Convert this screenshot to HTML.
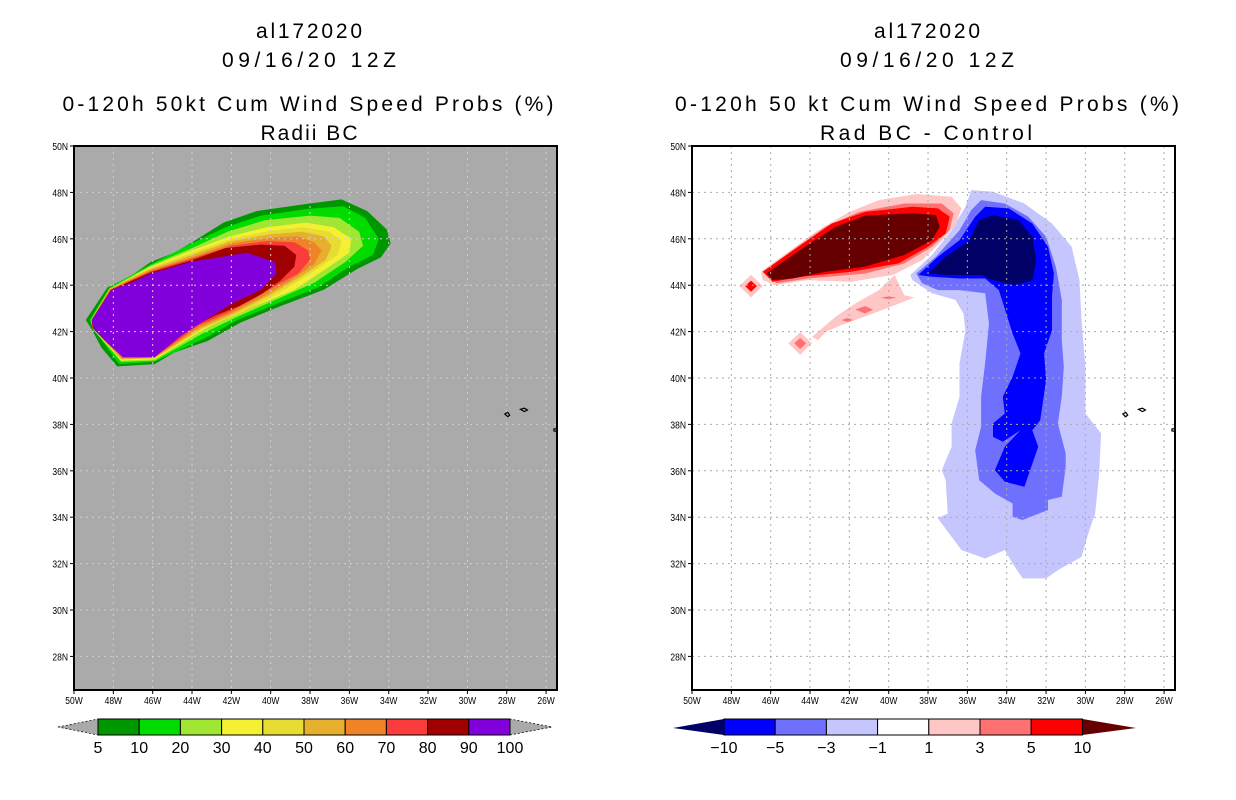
<!DOCTYPE html>
<html><head><meta charset="utf-8"><style>
html,body{margin:0;padding:0;background:#fff;}
svg{display:block;font-family:"Liberation Sans",sans-serif;}
.t{font-size:21px;text-anchor:middle;fill:#000;}
.tk{font-size:10px;fill:#000;}
.cb{font-size:16px;text-anchor:middle;fill:#000;}
</style></head><body>
<svg id="s" width="1236" height="800" viewBox="0 0 1236 800" xmlns="http://www.w3.org/2000/svg">
<defs>
<clipPath id="cl"><rect x="74" y="146" width="483" height="544"/></clipPath>
<clipPath id="cr"><rect x="692" y="146" width="483" height="544"/></clipPath>
</defs>
<g>
<text class="t" x="309" y="38" textLength="106" lengthAdjust="spacing">al172020</text>
<text class="t" x="309" y="67" textLength="174" lengthAdjust="spacing">09/16/20 12Z</text>
<text class="t" x="308" y="111" textLength="491" lengthAdjust="spacing">0-120h 50kt Cum Wind Speed Probs (%)</text>
<text class="t" x="309" y="140" textLength="97" lengthAdjust="spacing">Radii BC</text>
</g>
<g>
<text class="t" x="927" y="38" textLength="106" lengthAdjust="spacing">al172020</text>
<text class="t" x="927" y="67" textLength="174" lengthAdjust="spacing">09/16/20 12Z</text>
<text class="t" x="927" y="111" textLength="504" lengthAdjust="spacing">0-120h 50 kt Cum Wind Speed Probs (%)</text>
<text class="t" x="926" y="140" textLength="212" lengthAdjust="spacing">Rad BC - Control</text>
</g>
<g id="left"></g>
<g id="right"></g>
<g id="cbl"></g>
<g id="cbr"></g>
</svg>
<script>
const NS="http://www.w3.org/2000/svg";
const lonTicks=[50,48,46,44,42,40,38,36,34,32,30,28,26];
const latTicks=[50,48,46,44,42,40,38,36,34,32,30,28];
// Left panel contours (lonW, lat)
const probLevels=[5,10,20,30,40,50,60,70,80,90];
const probColors=["#009600","#00dc00","#a0e632","#f5f032","#e6dc32","#e6af2d","#f08228","#fa3c3c","#a00000","#8200dc"];
const p5=[[49.4,42.5],[48.3,43.9],[47.1,44.4],[46.1,45.0],[44.9,45.4],[43.9,45.9],[42.4,46.7],[40.7,47.2],[38.2,47.5],[36.4,47.7],[35.1,47.2],[34.1,46.4],[33.9,45.8],[34.4,45.2],[35.6,44.7],[37.3,43.8],[39.5,43.1],[41.5,42.4],[43.2,41.6],[44.9,41.1],[45.9,40.6],[47.8,40.5],[48.6,41.3],[49.1,42.1]];
const p10=[[49.2,42.5],[48.2,43.9],[46.1,44.9],[44.0,45.8],[42.3,46.5],[40.5,47.0],[38.0,47.3],[36.3,47.4],[35.2,46.9],[34.5,46.0],[34.8,45.3],[36.0,44.8],[37.6,43.9],[39.7,43.2],[41.7,42.5],[43.4,41.7],[45.9,40.7],[47.7,40.6],[49.0,42.1]];
const p20=[[49.15,42.5],[48.2,43.85],[46.1,44.85],[44.0,45.6],[42.2,46.3],[40.3,46.8],[38.0,47.0],[36.5,46.9],[35.5,46.3],[35.3,45.7],[36.2,45.0],[37.8,44.1],[39.8,43.35],[41.8,42.6],[43.5,41.9],[45.9,40.75],[47.6,40.7],[49.05,42.1]];
const p30=[[49.1,42.5],[48.15,43.85],[46.1,44.8],[44.0,45.5],[42.1,46.1],[40.2,46.5],[38.2,46.7],[36.8,46.5],[35.9,46.0],[36.0,45.4],[37.2,44.7],[38.8,43.8],[40.5,43.2],[42.0,42.7],[43.6,42.0],[45.9,40.8],[47.6,40.75],[49.05,42.15]];
const p40=[[49.1,42.5],[48.2,43.85],[46.1,44.75],[44.0,45.4],[42.0,46.0],[40.0,46.35],[38.3,46.5],[37.0,46.3],[36.4,45.9],[36.6,45.3],[37.8,44.6],[39.5,43.7],[41.5,42.8],[43.5,42.1],[45.9,40.85],[47.6,40.8],[49.05,42.15]];
const p50=[[49.1,42.5],[48.2,43.85],[46.1,44.7],[44.0,45.3],[42.0,45.9],[40.0,46.2],[38.4,46.3],[37.3,46.1],[36.9,45.7],[37.2,45.1],[38.4,44.4],[40.0,43.6],[41.8,42.8],[43.5,42.15],[45.9,40.85],[47.6,40.8],[49.05,42.15]];
const p60=[[49.1,42.5],[48.15,43.82],[46.1,44.65],[44.0,45.2],[42.0,45.8],[40.0,46.05],[38.6,46.1],[37.8,45.85],[37.4,45.5],[37.8,44.9],[39.0,44.2],[40.4,43.5],[42.0,42.8],[43.6,42.2],[45.9,40.88],[47.55,40.85],[49.05,42.15]];
const p70=[[49.1,42.5],[48.15,43.8],[46.1,44.6],[44.0,45.15],[42.0,45.7],[40.2,45.9],[38.8,45.85],[38.1,45.5],[38.0,45.1],[38.6,44.5],[39.7,44.0],[40.9,43.4],[42.2,42.8],[43.7,42.25],[45.9,40.9],[47.55,40.88],[49.05,42.15]];
const p80=[[49.1,42.5],[48.12,43.8],[46.1,44.55],[44.1,45.05],[42.3,45.6],[40.5,45.75],[39.3,45.7],[38.7,45.3],[38.8,44.8],[39.5,44.2],[40.5,43.6],[41.6,43.1],[42.8,42.7],[44.0,42.2],[45.9,40.9],[47.5,40.9],[49.05,42.15]];
const p90=[[49.1,42.5],[48.1,43.8],[47.1,44.1],[46.1,44.5],[44.1,45.0],[41.2,45.4],[39.8,45.0],[39.7,44.5],[40.5,43.8],[42.0,43.2],[43.5,42.4],[44.6,41.8],[45.9,40.9],[47.5,40.9],[48.3,41.5],[49.0,42.1]];
const probPolys=[p5,p10,p20,p30,p40,p50,p60,p70,p80,p90];
// Right panel difference contours
const diffLevels=[-10,-5,-3,-1,1,3,5,10];
const diffColors=["#000066","#0000ff","#7070ff","#c6c6ff","#ffffff","#ffc6c6","#ff7070","#ff0000","#660000"];
const nLight=[[38.9,44.44],[37.8,45.3],[36.8,46.37],[36.1,47.38],[35.8,48.1],[34.7,48.03],[33.1,47.52],[31.7,46.66],[30.7,45.66],[30.3,44.22],[30.2,42.5],[30.0,40.48],[30.0,38.47],[29.2,37.61],[29.3,35.89],[29.5,34.16],[29.8,33.44],[30.2,32.29],[31.4,31.72],[32.0,31.36],[33.2,31.36],[33.7,32.01],[34.1,32.58],[35.1,32.22],[36.3,32.58],[37.5,33.95],[37.0,34.16],[37.1,35.6],[37.3,36.03],[36.8,37.04],[36.8,38.04],[36.4,39.19],[36.4,40.63],[36.1,42.06],[36.2,42.78],[36.6,43.36],[37.8,43.65],[38.8,44.22]];
const nMed=[[38.6,44.51],[37.6,45.23],[36.4,46.37],[35.8,47.24],[35.3,47.67],[34.1,47.52],[32.9,46.95],[32.0,46.09],[31.5,44.79],[31.2,43.36],[31.2,41.63],[31.1,40.48],[31.2,39.19],[31.4,38.04],[31.0,36.75],[31.0,36.17],[31.2,34.88],[31.9,34.74],[31.9,34.31],[33.2,33.88],[33.7,34.02],[33.7,34.59],[34.6,35.02],[35.4,35.6],[35.6,36.89],[35.3,37.9],[35.3,39.19],[35.1,40.63],[34.9,42.35],[35.1,43.65],[36.4,43.79],[37.5,43.79],[38.3,44.08]];
const nBlue=[[38.5,44.44],[37.5,45.23],[36.4,45.94],[35.6,46.95],[35.1,47.38],[33.9,47.31],[32.7,46.66],[31.9,45.66],[31.6,44.51],[31.7,43.5],[31.7,42.06],[32.1,41.06],[32.0,39.91],[32.3,38.18],[32.7,37.75],[32.4,37.04],[33.1,35.31],[34.1,35.53],[34.6,36.03],[34.1,37.04],[33.3,37.75],[34.2,37.25],[34.7,37.47],[34.7,38.04],[34.1,38.47],[34.2,39.19],[33.7,40.05],[33.3,41.06],[33.7,41.92],[34.4,43.79],[35.1,44.29],[36.4,44.29],[37.8,44.36]];
const nNavy=[[38.0,44.51],[37.1,45.23],[35.9,45.94],[35.4,46.81],[34.7,47.02],[33.4,46.81],[32.7,46.09],[32.5,45.08],[32.7,44.22],[33.6,44.0],[34.7,44.22],[35.3,44.44],[37.1,44.44]];
const pLight=[[46.5,44.58],[45.1,45.44],[43.6,46.37],[42.0,47.16],[40.5,47.67],[38.6,47.93],[36.8,47.81],[36.3,47.31],[36.6,46.59],[37.5,45.73],[38.3,45.08],[39.8,44.44],[41.9,44.15],[44.2,44.22],[45.8,44.0],[46.4,44.22]];
const pMed=[[46.4,44.58],[44.9,45.5],[43.2,46.52],[41.5,47.16],[39.2,47.52],[37.3,47.52],[36.7,47.1],[36.9,46.38],[37.8,45.66],[39.2,44.94],[41.2,44.5],[44.1,44.29],[45.7,44.08]];
const pRed=[[46.4,44.58],[44.6,45.66],[42.9,46.66],[41.2,47.16],[38.8,47.38],[37.5,47.31],[36.9,46.95],[37.1,46.23],[38.0,45.66],[39.5,44.94],[41.9,44.58],[44.4,44.36],[45.9,44.15]];
const pDark=[[46.2,44.51],[44.4,45.58],[42.7,46.52],[41.2,47.0],[38.8,47.1],[37.6,47.02],[37.4,46.52],[37.8,45.94],[39.2,45.3],[41.2,44.8],[43.2,44.58],[44.9,44.29],[45.9,44.22]];
const pBand=[[43.9,41.78],[42.7,42.64],[41.7,43.21],[40.5,43.79],[39.7,44.44],[39.2,43.57],[38.7,43.47],[39.7,43.14],[40.8,42.78],[42.2,42.35],[43.2,41.99],[43.6,41.63]];
const pBlobA=[[41.7,42.95],[41.2,43.1],[40.8,42.95],[41.2,42.78]];
const pBlobB=[[40.4,43.46],[40.0,43.52],[39.6,43.46],[40.0,43.4]];
const pBlobC=[[42.4,42.5],[42.1,42.58],[41.8,42.5],[42.1,42.42]];
const dia1Out=[[47.6,43.96],[47.0,44.45],[46.4,43.96],[47.0,43.47]];
const dia1In=[[47.3,43.96],[47.0,44.2],[46.7,43.96],[47.0,43.72]];
const dia2Out=[[45.1,41.49],[44.5,41.98],[43.9,41.49],[44.5,41.0]];
const dia2In=[[44.8,41.49],[44.5,41.73],[44.2,41.49],[44.5,41.25]];
const islands=[[[28.1,38.45],[27.95,38.52],[27.85,38.4],[27.95,38.33]],[[27.3,38.65],[27.1,38.7],[26.95,38.62],[27.1,38.55]],[[25.6,37.8],[25.1,37.85],[25.1,37.65],[25.6,37.72]]];

function X(x0,lonW){return x0+(50-lonW)*19.67;}
function Y(lat){return 146+(50-lat)*23.2;}
function poly(g,x0,pts,fill,name,stroke){
  const p=document.createElementNS(NS,"polygon");
  p.setAttribute("points",pts.map(d=>X(x0,d[0]).toFixed(1)+","+Y(d[1]).toFixed(1)).join(" "));
  p.setAttribute("fill",fill);
  if(stroke){p.setAttribute("stroke",stroke);p.setAttribute("stroke-width","1.2");}
  
  
  g.appendChild(p);return p;
}
function el(tag,attrs,parent){const e=document.createElementNS(NS,tag);for(const k in attrs)e.setAttribute(k,attrs[k]);parent.appendChild(e);return e;}

function panel(gid,x0,bg,clip,gridCol,draw){
  const g=document.getElementById(gid);
  const r=el("rect",{x:x0,y:146,width:483,height:544,fill:bg},g);
  
  
  const inner=el("g",{"clip-path":"url(#"+clip+")"},g);
  draw(inner);
  const grid=el("g",{stroke:gridCol,"stroke-width":1,"stroke-dasharray":"2,4"},inner);
  
  
  lonTicks.forEach(l=>{if(l<50)el("line",{x1:X(x0,l),x2:X(x0,l),y1:146,y2:690},grid);});
  latTicks.forEach(l=>{if(l<50)el("line",{x1:x0,x2:x0+483,y1:Y(l),y2:Y(l)},grid);});
  islands.forEach(is=>poly(inner,x0,is,"none","island-coastline","#000"));
  const fr=el("rect",{x:x0,y:146,width:483,height:544,fill:"none",stroke:"#000","stroke-width":2},g);
  
  
  lonTicks.forEach(l=>{
    el("line",{x1:X(x0,l),x2:X(x0,l),y1:690,y2:694,stroke:"#000"},g);
    const t=el("text",{x:X(x0,l),y:704,class:"tk","text-anchor":"middle",transform:"translate("+X(x0,l)+",0) scale(0.85,1) translate("+(-X(x0,l))+",0)"},g);
    t.textContent=l+"W";
    
    
  });
  latTicks.forEach(l=>{
    el("line",{x1:x0-4,x2:x0,y1:Y(l),y2:Y(l),stroke:"#000"},g);
    const t=el("text",{x:x0-6,y:Y(l)+4,class:"tk","text-anchor":"end",transform:"translate("+(x0-6)+",0) scale(0.85,1) translate("+(-(x0-6))+",0)"},g);
    t.textContent=l+"N";
    
    
  });
}
panel("left",74,"#aaaaaa","cl","#cfcfcf",g=>{
  probPolys.forEach((p,i)=>poly(g,74,p,probColors[i],"prob-contour-"+probLevels[i]));
});
panel("right",692,"#ffffff","cr","#aaaaaa",g=>{
  poly(g,692,nLight,diffColors[3],"diff-contour-neg1");
  poly(g,692,nMed,diffColors[2],"diff-contour-neg3");
  poly(g,692,nBlue,diffColors[1],"diff-contour-neg5");
  poly(g,692,nNavy,diffColors[0],"diff-contour-neg10");
  poly(g,692,pBand,diffColors[5],"diff-contour-pos1-band");
  poly(g,692,pBlobA,diffColors[6],"diff-blob");
  poly(g,692,pBlobB,diffColors[6],"diff-blob");
  poly(g,692,pBlobC,diffColors[6],"diff-blob");
  poly(g,692,pLight,diffColors[5],"diff-contour-pos1");
  poly(g,692,pMed,diffColors[6],"diff-contour-pos3");
  poly(g,692,pRed,diffColors[7],"diff-contour-pos5");
  poly(g,692,pDark,diffColors[8],"diff-contour-pos10");
  poly(g,692,dia1Out,diffColors[5],"diff-diamond");
  poly(g,692,dia1In,diffColors[7],"diff-diamond-core");
  poly(g,692,dia2Out,diffColors[5],"diff-diamond");
  poly(g,692,dia2In,diffColors[6],"diff-diamond-core");
});

// colorbars
const probCbLabels=["5","10","20","30","40","50","60","70","80","90","100"];
const diffCbLabels=["\u221210","\u22125","\u22123","\u22121","1","3","5","10"];
(function(){
  const g=document.getElementById("cbl");
  const x0=98,w=41.2,y0=719,h=16;
  const tri=el("polygon",{points:"58,727 "+x0+","+y0+" "+x0+","+(y0+h),fill:"#aaaaaa",stroke:"#000","stroke-dasharray":"2,2","stroke-width":0.7},g);
  
  
  const xe=x0+w*10;
  const tri2=el("polygon",{points:xe+","+y0+" "+xe+","+(y0+h)+" 552,727",fill:"#aaaaaa",stroke:"#000","stroke-dasharray":"2,2","stroke-width":0.7},g);
  
  
  probColors.forEach((c,i)=>{
    const r=el("rect",{x:x0+i*w,y:y0,width:w,height:h,fill:c,stroke:"#000","stroke-width":1},g);
    
    
  });
  probCbLabels.forEach((l,i)=>{
    const t=el("text",{x:x0+i*w,y:753,class:"cb"},g);t.textContent=l;
    
    
  });
})();
(function(){
  const g=document.getElementById("cbr");
  const x0=724,w=51.2,y0=719,h=16;
  const tri=el("polygon",{points:"673,728 "+x0+","+y0+" "+x0+","+(y0+h),fill:diffColors[0]},g);
  
  
  const xe=x0+w*7;
  const tri2=el("polygon",{points:xe+","+y0+" "+xe+","+(y0+h)+" 1136,728",fill:diffColors[8]},g);
  
  
  for(let i=1;i<8;i++){
    const r=el("rect",{x:x0+(i-1)*w,y:y0,width:w,height:h,fill:diffColors[i],stroke:"#000","stroke-width":1},g);
    
    
  }
  diffCbLabels.forEach((l,i)=>{
    const t=el("text",{x:x0+i*w,y:753,class:"cb"},g);t.textContent=l;
    
    
  });
})();
</script>
</body></html>
